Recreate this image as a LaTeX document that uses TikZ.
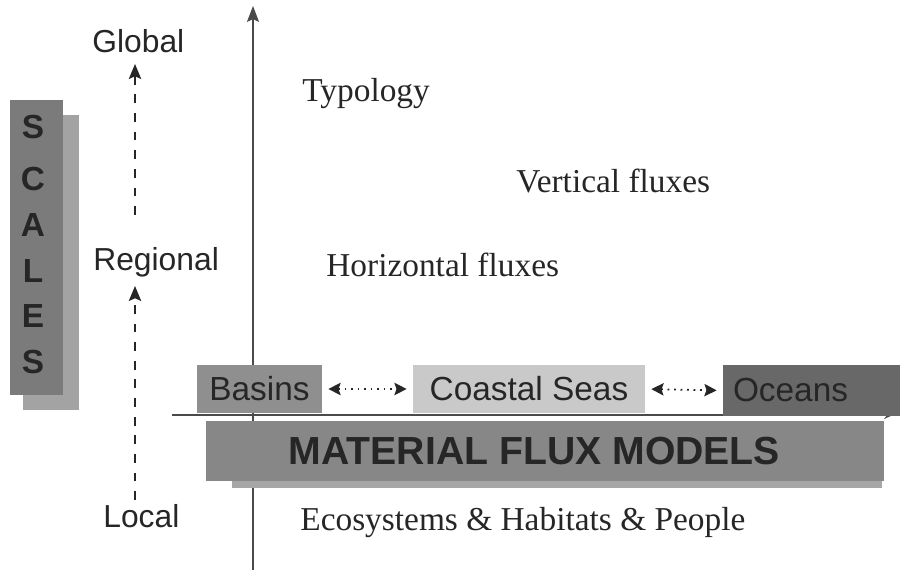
\documentclass[tikz,border=0pt]{standalone}
\usepackage{fontspec}
\setmainfont{Liberation Serif}
\setsansfont{Liberation Sans}
\usetikzlibrary{arrows.meta}

\definecolor{inkdark}{HTML}{262626}
\definecolor{axisgray}{HTML}{4A4A4A}
\definecolor{scalefront}{HTML}{7B7B7B}
\definecolor{scaleback}{HTML}{A3A3A3}
\definecolor{basinfill}{HTML}{8F8F8F}
\definecolor{coastfill}{HTML}{C9C9C9}
\definecolor{oceanfill}{HTML}{686868}
\definecolor{mfmfront}{HTML}{878787}
\definecolor{mfmback}{HTML}{A6A6A6}

\tikzset{
  axisline/.style={draw=axisgray, line width=0.9pt},
  axistip/.style={-{Stealth[length=9pt,width=6.8pt,inset=1.5pt]}},
  scaleup/.style={draw=inkdark, line width=1.1pt, dash pattern=on 5pt off 5.6pt,
    -{Stealth[length=8.5pt,width=7pt,inset=1.5pt]}},
  exchange/.style={draw=inkdark, line width=1pt, dash pattern=on 1.1pt off 2.6pt,
    {Stealth[length=7pt,width=7pt,inset=1.2pt]}-{Stealth[length=7pt,width=7pt,inset=1.2pt]},
    shorten <=3.4pt, shorten >=3.4pt},
  scalelabel/.style={font=\sffamily\fontsize{18.1}{20}\selectfont, text=inkdark,
    inner sep=0pt, anchor=base west},
  themelabel/.style={font=\rmfamily\fontsize{19}{21}\selectfont, text=inkdark,
    inner sep=0pt, anchor=base west},
  letter/.style={font=\sffamily\bfseries\fontsize{19}{21}\selectfont, text=inkdark,
    inner sep=0pt},
  regionbox/.style={inner sep=0pt, minimum height=0.96cm, text=inkdark,
    font=\sffamily\fontsize{19}{21}\selectfont},
}

\begin{document}
\begin{tikzpicture}[x=0.02cm, y=-0.02cm]
\useasboundingbox (0,0) rectangle (900,570);

% SCALES banner with its offset shadow
\fill[scaleback] (23,115) rectangle (79,410);
\fill[scalefront] (10,100) rectangle (63,395);
\node[letter] (l1) at (33,127) {S};
\node[letter] (l2) at (33,179) {C};
\node[letter] (l3) at (33,225) {A};
\node[letter] (l4) at (33,271) {L};
\node[letter] (l5) at (33,316) {E};
\node[letter] (l6) at (33,362) {S};

% scale labels and the dashed arrows between them
\node[scalelabel] (global) at (92,53) {Global};
\node[scalelabel] (regional) at (93,271) {Regional};
\node[scalelabel] (local) at (103,528) {Local};
\coordinate (gfrom) at (135,215);
\coordinate (gto) at (135,64);
\coordinate (rfrom) at (135,500);
\coordinate (rto) at (135,286);
\draw[scaleup] (gfrom) -- (gto);
\draw[scaleup] (rfrom) -- (rto);

% axes
\coordinate (vbot) at (253,570);
\coordinate (vtop) at (253,6);
\coordinate (hleft) at (172,415);
\coordinate (hright) at (893,415);
\draw[axisline, axistip] (vbot) -- (vtop);
\draw[axisline, -{Stealth[length=5pt,width=4.5pt]}] (hleft) -- (hright);

% themes
\node[themelabel] (typology) at (302,102) {Typology};
\node[themelabel] (vertical) at (516,193) {Vertical fluxes};
\node[themelabel] (horizontal) at (326,277) {Horizontal fluxes};
\node[themelabel] (ecosys) at (300,531) {Ecosystems \& Habitats \& People};

% material flux models banner
\fill[mfmback] (232,430) rectangle (882,488);
\node[fill=mfmfront, inner sep=0pt, minimum width=13.56cm, minimum height=1.2cm,
  text=inkdark, font=\sffamily\bfseries\fontsize{22.3}{24}\selectfont]
  (mfm) at (545,451) {\hspace*{-12pt}MATERIAL FLUX MODELS};

% compartments
\node[regionbox, fill=basinfill, minimum width=2.5cm] (basins) at (259.5,389) {Basins};
\node[regionbox, fill=coastfill, minimum width=4.64cm] (coastal) at (529,389) {Coastal Seas};
\node[regionbox, fill=oceanfill, minimum width=3.54cm, minimum height=1.02cm,
  text width=3.14cm, inner xsep=0.2cm, align=left] (oceans) at (811.5,390.5) {Oceans};

\draw[exchange] (basins.east) -- (coastal.west);
\draw[exchange] (coastal.east) -- (oceans.west);
\end{tikzpicture}
\end{document}
